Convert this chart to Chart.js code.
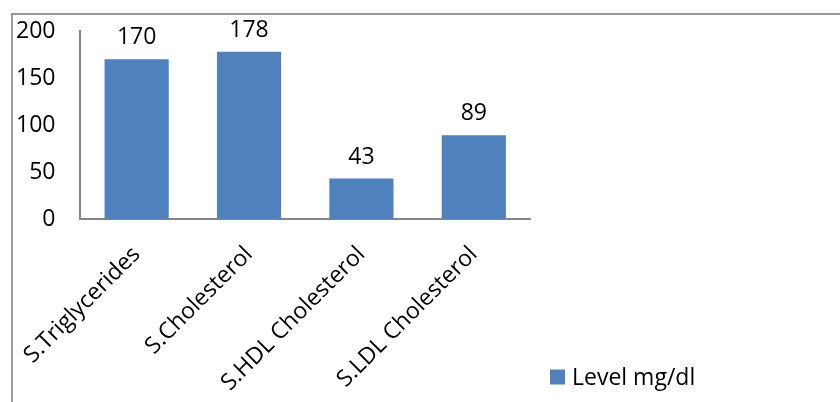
<!DOCTYPE html>
<html>
<head>
<meta charset="utf-8">
<script src="https://cdn.jsdelivr.net/npm/chart.js@4"></script>
<style>
    html, body { margin: 0; padding: 0; background: #fff; }
    #wrap { position: relative; width: 840px; height: 402px; overflow: hidden; }
    #frame { position: absolute; left: 11px; top: 13px; width: 900px; height: 500px;
             border-left: 2px solid #9a9a9a; border-top: 2px solid #9a9a9a; }
    canvas { position: absolute; left: 0; top: 0; }
</style>
</head>
<body>
<div id="wrap">
    <div id="frame"></div>
    <canvas id="lipidChart" width="840" height="402"></canvas>
</div>
<script>
const categories = ['S.Triglycerides', 'S.Cholesterol', 'S.HDL Cholesterol', 'S.LDL Cholesterol'];
const levels = [170, 178, 43, 89];
const seriesName = 'Level mg/dl';
const yTicks = [0, 50, 100, 150, 200];

const FONT = '"Open Sans", sans-serif';
const Y_PAD = 25;
const X_PAD = 22;
const X_AXIS_HEIGHT = 183;

// value labels above each bar
const barValues = {
    id: 'barValues',
    afterDatasetsDraw(chart) {
        const ctx = chart.ctx;
        ctx.save();
        ctx.font = '23px ' + FONT;
        ctx.fillStyle = '#000';
        ctx.textAlign = 'center';
        chart.getDatasetMeta(0).data.forEach((bar, i) => {
            ctx.fillText(String(chart.data.datasets[0].data[i]), bar.x, bar.y - 15);
        });
        ctx.restore();
    }
};

// legend sitting low on the right, like the original
const sideLegend = {
    id: 'sideLegend',
    afterDraw(chart) {
        const ctx = chart.ctx;
        const ds = chart.data.datasets[0];
        const x = chart.chartArea.right + 20;
        const y = 377;
        ctx.save();
        ctx.fillStyle = ds.backgroundColor;
        ctx.fillRect(x, y - 7.5, 15, 15);
        ctx.font = '23px ' + FONT;
        ctx.fillStyle = '#000';
        ctx.textBaseline = 'middle';
        ctx.fillText(ds.label, x + 22, y + 1);
        ctx.restore();
    }
};

document.addEventListener('DOMContentLoaded', () => {
    const canvas = document.getElementById('lipidChart');
    new Chart(canvas, {
        type: 'bar',
        data: {
            labels: categories,
            datasets: [{
                label: seriesName,
                data: levels,
                backgroundColor: '#4f81bd',
                categoryPercentage: 1,
                barPercentage: 0.571
            }]
        },
        options: {
            responsive: false,
            animation: false,
            layout: { padding: { left: 16, top: 31, right: 310, bottom: 0 } },
            plugins: {
                tooltip: { enabled: false },
                legend: { display: false }
            },
            scales: {
                x: {
                    afterFit(scale) { scale.paddingLeft = 0; scale.paddingRight = 0; scale.height = X_AXIS_HEIGHT; },
                    grid: { display: false, drawTicks: false },
                    border: { display: true, color: '#868686', width: 2 },
                    ticks: { color: '#000', font: { family: FONT, size: 23 }, maxRotation: 45, minRotation: 45, padding: X_PAD }
                },
                y: {
                    min: 0, max: 200,
                    afterBuildTicks(scale) { scale.ticks = yTicks.map(v => ({ value: v })); },
                    // chart.js counts tick padding twice; keep only the inner one
                    afterFit(scale) { scale.paddingTop = 0; scale.paddingBottom = 0; scale.width -= Y_PAD; },
                    grid: { display: false, drawTicks: false },
                    border: { display: true, color: '#868686', width: 2 },
                    ticks: { color: '#000', font: { family: FONT, size: 23 }, padding: Y_PAD }
                }
            }
        },
        plugins: [barValues, sideLegend]
    });
});
</script>
</body>
</html>
